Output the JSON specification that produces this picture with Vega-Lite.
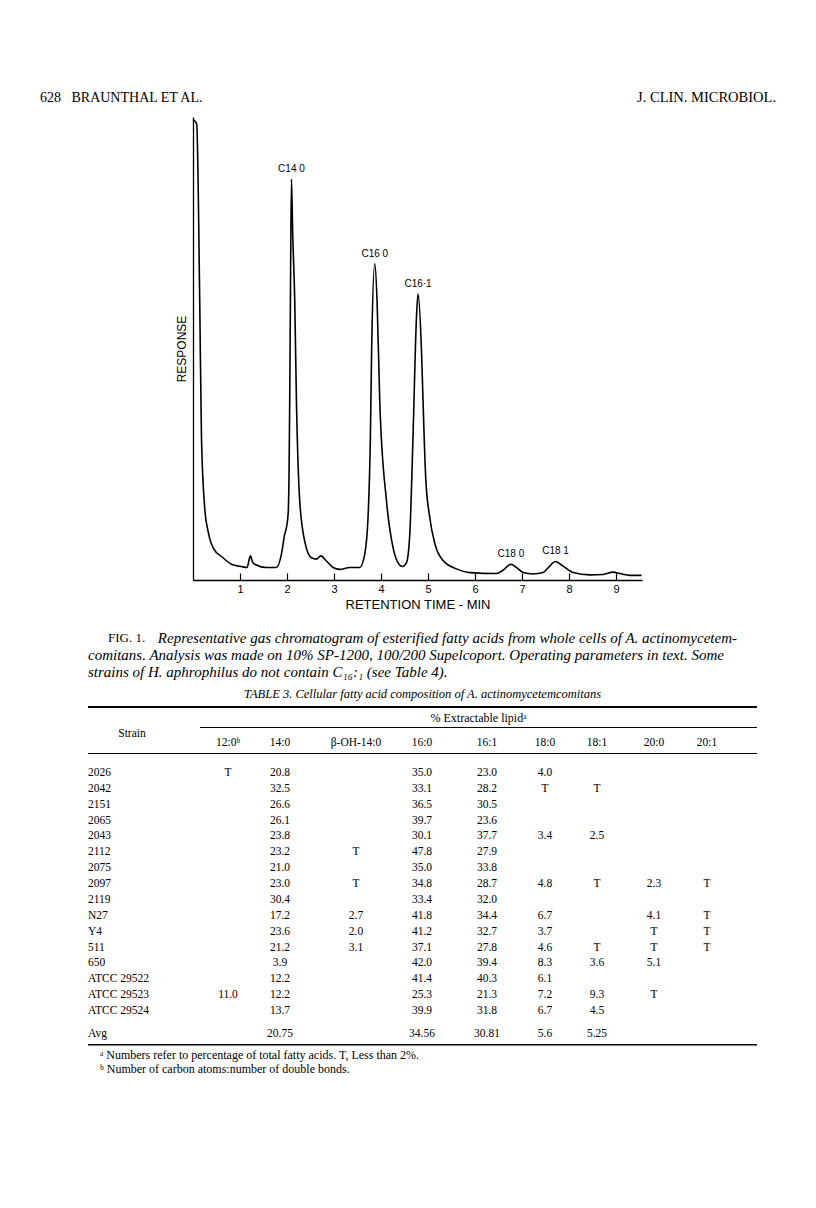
{
"$schema":"https://vega.github.io/schema/vega-lite/v6.json",
"background":"white",
"padding":{"left":0,"top":80,"right":0,"bottom":0},
"spacing":0,
"config":{"view":{"stroke":null},"concat":{"spacing":0},"text":{"font":"Liberation Serif","fontSize":11.5,"color":"black"},"title":{"font":"Liberation Serif","fontWeight":"normal","color":"black"}},
"datasets":{
"runninghead":[{"side":"left","label":"628\u00a0\u00a0\u00a0BRAUNTHAL ET AL."},{"side":"right","label":"J. CLIN. MICROBIOL."}],
"trace":[{"time":0,"response":99.5},{"time":0.079,"response":98.5},{"time":0.143,"response":60.3},{"time":0.179,"response":31.5},{"time":0.249,"response":15.6},{"time":0.319,"response":10.6},{"time":0.426,"response":7.0},{"time":0.638,"response":4.8},{"time":0.817,"response":3.4},{"time":1.03,"response":2.9},{"time":1.149,"response":2.7},{"time":1.221,"response":5.2},{"time":1.27,"response":3.8},{"time":1.313,"response":3.4},{"time":1.562,"response":2.7},{"time":1.774,"response":2.7},{"time":1.881,"response":5.6},{"time":1.951,"response":9.9},{"time":1.987,"response":11.3},{"time":2.025,"response":14.5},{"time":2.045,"response":25},{"time":2.057,"response":38.7},{"time":2.072,"response":60.3},{"time":2.094,"response":86.6},{"time":2.12,"response":75},{"time":2.164,"response":60.3},{"time":2.2,"response":38.7},{"time":2.27,"response":17.1},{"time":2.391,"response":7.7},{"time":2.519,"response":4.8},{"time":2.626,"response":4.5},{"time":2.717,"response":5.2},{"time":2.838,"response":4.1},{"time":2.979,"response":2.7},{"time":3.121,"response":2.3},{"time":3.334,"response":2.7},{"time":3.547,"response":2.7},{"time":3.653,"response":5.6},{"time":3.723,"response":13.5},{"time":3.774,"response":31.5},{"time":3.8,"response":50},{"time":3.866,"response":68.3},{"time":3.915,"response":60.3},{"time":3.972,"response":38.7},{"time":4.115,"response":17.1},{"time":4.255,"response":7.0},{"time":4.362,"response":3.7},{"time":4.455,"response":2.9},{"time":4.54,"response":3.7},{"time":4.611,"response":9.9},{"time":4.681,"response":31.5},{"time":4.753,"response":56.7},{"time":4.787,"response":61.8},{"time":4.86,"response":49.5},{"time":4.91,"response":33},{"time":4.95,"response":22},{"time":5.036,"response":13.5},{"time":5.14,"response":8},{"time":5.319,"response":4.2},{"time":5.604,"response":2.4},{"time":5.887,"response":1.6},{"time":6.455,"response":1.4},{"time":6.59,"response":2.1},{"time":6.762,"response":3.4},{"time":6.881,"response":2.7},{"time":7.021,"response":1.6},{"time":7.234,"response":1.3},{"time":7.447,"response":1.6},{"time":7.568,"response":2.8},{"time":7.711,"response":4.0},{"time":7.872,"response":3.0},{"time":8.085,"response":1.6},{"time":8.44,"response":1.1},{"time":8.723,"response":1.2},{"time":8.936,"response":1.7},{"time":9.079,"response":1.4},{"time":9.291,"response":1.0},{"time":9.54,"response":1.0}],
"peaks":[{"time":2.094,"response":86.6,"label":"C14 0"},{"time":3.866,"response":68.3,"label":"C16 0"},{"time":4.787,"response":61.8,"label":"C16·1"},{"time":6.762,"response":3.4,"label":"C18 0"},{"time":7.711,"response":4.0,"label":"C18 1"}],
"caption":[{"line":"1","part":"label","text":"FIG. 1."},{"line":"1","part":"first","text":"Representative gas chromatogram of esterified fatty acids from whole cells of A. actinomycetem-"},{"line":"2","part":"rest","text":"comitans. Analysis was made on 10% SP-1200, 100/200 Supelcoport. Operating parameters in text. Some"},{"line":"3","part":"rest","text":"strains of H. aphrophilus do not contain C₁₆:₁ (see Table 4)."}],
"tabletext":[{"role":"title","line":"t","text":"TABLE 3. Cellular fatty acid composition of A. actinomycetemcomitans"},{"role":"group","line":"g","text":"% Extractable lipidᵃ"},{"role":"foot","line":"a","text":"ᵃ Numbers refer to percentage of total fatty acids. T, Less than 2%."},{"role":"foot","line":"b","text":"ᵇ Number of carbon atoms:number of double bonds."}],
"columns":[{"acid":"Strain","label":"Strain"},{"acid":"12:0","label":"12:0ᵇ"},{"acid":"14:0","label":"14:0"},{"acid":"β-OH-14:0","label":"β-OH-14:0"},{"acid":"16:0","label":"16:0"},{"acid":"16:1","label":"16:1"},{"acid":"18:0","label":"18:0"},{"acid":"18:1","label":"18:1"},{"acid":"20:0","label":"20:0"},{"acid":"20:1","label":"20:1"}],
"cells":[
{"strain":"2026","acid":"12:0","value":"T"},{"strain":"2026","acid":"14:0","value":"20.8"},{"strain":"2026","acid":"16:0","value":"35.0"},{"strain":"2026","acid":"16:1","value":"23.0"},{"strain":"2026","acid":"18:0","value":"4.0"},
{"strain":"2042","acid":"14:0","value":"32.5"},{"strain":"2042","acid":"16:0","value":"33.1"},{"strain":"2042","acid":"16:1","value":"28.2"},{"strain":"2042","acid":"18:0","value":"T"},{"strain":"2042","acid":"18:1","value":"T"},
{"strain":"2151","acid":"14:0","value":"26.6"},{"strain":"2151","acid":"16:0","value":"36.5"},{"strain":"2151","acid":"16:1","value":"30.5"},
{"strain":"2065","acid":"14:0","value":"26.1"},{"strain":"2065","acid":"16:0","value":"39.7"},{"strain":"2065","acid":"16:1","value":"23.6"},
{"strain":"2043","acid":"14:0","value":"23.8"},{"strain":"2043","acid":"16:0","value":"30.1"},{"strain":"2043","acid":"16:1","value":"37.7"},{"strain":"2043","acid":"18:0","value":"3.4"},{"strain":"2043","acid":"18:1","value":"2.5"},
{"strain":"2112","acid":"14:0","value":"23.2"},{"strain":"2112","acid":"β-OH-14:0","value":"T"},{"strain":"2112","acid":"16:0","value":"47.8"},{"strain":"2112","acid":"16:1","value":"27.9"},
{"strain":"2075","acid":"14:0","value":"21.0"},{"strain":"2075","acid":"16:0","value":"35.0"},{"strain":"2075","acid":"16:1","value":"33.8"},
{"strain":"2097","acid":"14:0","value":"23.0"},{"strain":"2097","acid":"β-OH-14:0","value":"T"},{"strain":"2097","acid":"16:0","value":"34.8"},{"strain":"2097","acid":"16:1","value":"28.7"},{"strain":"2097","acid":"18:0","value":"4.8"},{"strain":"2097","acid":"18:1","value":"T"},{"strain":"2097","acid":"20:0","value":"2.3"},{"strain":"2097","acid":"20:1","value":"T"},
{"strain":"2119","acid":"14:0","value":"30.4"},{"strain":"2119","acid":"16:0","value":"33.4"},{"strain":"2119","acid":"16:1","value":"32.0"},
{"strain":"N27","acid":"14:0","value":"17.2"},{"strain":"N27","acid":"β-OH-14:0","value":"2.7"},{"strain":"N27","acid":"16:0","value":"41.8"},{"strain":"N27","acid":"16:1","value":"34.4"},{"strain":"N27","acid":"18:0","value":"6.7"},{"strain":"N27","acid":"20:0","value":"4.1"},{"strain":"N27","acid":"20:1","value":"T"},
{"strain":"Y4","acid":"14:0","value":"23.6"},{"strain":"Y4","acid":"β-OH-14:0","value":"2.0"},{"strain":"Y4","acid":"16:0","value":"41.2"},{"strain":"Y4","acid":"16:1","value":"32.7"},{"strain":"Y4","acid":"18:0","value":"3.7"},{"strain":"Y4","acid":"20:0","value":"T"},{"strain":"Y4","acid":"20:1","value":"T"},
{"strain":"511","acid":"14:0","value":"21.2"},{"strain":"511","acid":"β-OH-14:0","value":"3.1"},{"strain":"511","acid":"16:0","value":"37.1"},{"strain":"511","acid":"16:1","value":"27.8"},{"strain":"511","acid":"18:0","value":"4.6"},{"strain":"511","acid":"18:1","value":"T"},{"strain":"511","acid":"20:0","value":"T"},{"strain":"511","acid":"20:1","value":"T"},
{"strain":"650","acid":"14:0","value":"3.9"},{"strain":"650","acid":"16:0","value":"42.0"},{"strain":"650","acid":"16:1","value":"39.4"},{"strain":"650","acid":"18:0","value":"8.3"},{"strain":"650","acid":"18:1","value":"3.6"},{"strain":"650","acid":"20:0","value":"5.1"},
{"strain":"ATCC 29522","acid":"14:0","value":"12.2"},{"strain":"ATCC 29522","acid":"16:0","value":"41.4"},{"strain":"ATCC 29522","acid":"16:1","value":"40.3"},{"strain":"ATCC 29522","acid":"18:0","value":"6.1"},
{"strain":"ATCC 29523","acid":"12:0","value":"11.0"},{"strain":"ATCC 29523","acid":"14:0","value":"12.2"},{"strain":"ATCC 29523","acid":"16:0","value":"25.3"},{"strain":"ATCC 29523","acid":"16:1","value":"21.3"},{"strain":"ATCC 29523","acid":"18:0","value":"7.2"},{"strain":"ATCC 29523","acid":"18:1","value":"9.3"},{"strain":"ATCC 29523","acid":"20:0","value":"T"},
{"strain":"ATCC 29524","acid":"14:0","value":"13.7"},{"strain":"ATCC 29524","acid":"16:0","value":"39.9"},{"strain":"ATCC 29524","acid":"16:1","value":"31.8"},{"strain":"ATCC 29524","acid":"18:0","value":"6.7"},{"strain":"ATCC 29524","acid":"18:1","value":"4.5"},
{"strain":"Avg","acid":"14:0","value":"20.75"},{"strain":"Avg","acid":"16:0","value":"34.56"},{"strain":"Avg","acid":"16:1","value":"30.81"},{"strain":"Avg","acid":"18:0","value":"5.6"},{"strain":"Avg","acid":"18:1","value":"5.25"}
]
},
"vconcat":[
{"width":816,"height":36,"data":{"name":"runninghead"},
 "encoding":{"x":{"field":"side","type":"nominal","scale":{"domain":["left","right"],"padding":0.0543},"axis":null},"text":{"field":"label"}},
 "layer":[
  {"transform":[{"filter":"datum.side == 'left'"}],"mark":{"type":"text","align":"left","fontSize":14}},
  {"transform":[{"filter":"datum.side == 'right'"}],"mark":{"type":"text","align":"right","fontSize":14.5}}
 ]},
{"bounds":"flush","spacing":0,"hconcat":[
 {"width":193,"height":511.5,"data":{"values":[]},"mark":"text"},
 {"width":449,"height":463,
  "encoding":{
   "x":{"field":"time","type":"quantitative","scale":{"domain":[0,9.55],"nice":false,"zero":false},
        "axis":{"values":[1,2,3,4,5,6,7,8,9],"format":"d","grid":false,"domainColor":"black","domainWidth":1.3,"tickColor":"black","tickSize":-7,"tickWidth":1.2,"labelFont":"Liberation Sans","labelFontSize":11,"labelColor":"black","labelPadding":10,"labelFlush":false,"title":"RETENTION TIME - MIN","titleFont":"Liberation Sans","titleFontSize":13,"titleFontWeight":"normal","titleColor":"black","titlePadding":4}},
   "y":{"field":"response","type":"quantitative","scale":{"domain":[0,100],"nice":false},
        "axis":{"ticks":false,"labels":false,"grid":false,"domainColor":"black","domainWidth":1.3,"title":"RESPONSE","titleFont":"Liberation Sans","titleFontSize":12,"titleFontWeight":"normal","titleColor":"black","titlePadding":5}}
  },
  "layer":[
   {"data":{"name":"trace"},"mark":{"type":"line","interpolate":"monotone","color":"black","strokeWidth":1.6}},
   {"data":{"name":"peaks"},"mark":{"type":"text","dy":-10,"font":"Liberation Sans","fontSize":10},"encoding":{"text":{"field":"label"}}}
  ]}
]},
{"bounds":"flush","spacing":0,"hconcat":[
 {"width":88,"height":52,"data":{"values":[]},"mark":"text"},
 {"width":649,"height":52,"data":{"name":"caption"},
  "encoding":{"y":{"field":"line","type":"nominal","scale":{"domain":["1","2","3"]},"axis":null},"text":{"field":"text"}},
  "layer":[
   {"transform":[{"filter":"datum.part == 'label'"}],"mark":{"type":"text","align":"left","fontSize":13},"encoding":{"x":{"datum":"label","type":"nominal","scale":{"align":0.0308},"axis":null}}},
   {"transform":[{"filter":"datum.part == 'first'"}],"mark":{"type":"text","align":"right","fontSize":15,"fontStyle":"italic"},"encoding":{"x":{"datum":"first","type":"nominal","scale":{"align":1},"axis":null}}},
   {"transform":[{"filter":"datum.part == 'rest'"}],"mark":{"type":"text","align":"left","fontSize":15,"fontStyle":"italic"},"encoding":{"x":{"datum":"rest","type":"nominal","scale":{"align":0},"axis":null}}}
  ],
  "resolve":{"scale":{"x":"independent"}}}
]},
{"bounds":"flush","spacing":0,"hconcat":[
 {"width":88,"height":25,"data":{"values":[]},"mark":"text"},
 {"width":669,"height":25,"data":{"name":"tabletext"},"transform":[{"filter":"datum.role == 'title'"}],"mark":{"type":"text","fontSize":12.5,"fontStyle":"italic"},"encoding":{"text":{"field":"text"}}}
]},
{"bounds":"flush","spacing":0,"hconcat":[
 {"width":88,"height":2,"data":{"values":[]},"mark":"text"},
 {"width":669,"height":2,"data":{"values":[]},"mark":"text","view":{"fill":"black"}}
]},
{"bounds":"flush","spacing":0,"hconcat":[
 {"width":200,"height":19,"data":{"values":[]},"mark":"text"},
 {"width":557,"height":19,"data":{"name":"tabletext"},"transform":[{"filter":"datum.role == 'group'"}],"mark":{"type":"text","fontSize":12},"encoding":{"text":{"field":"text"}}}
]},
{"bounds":"flush","spacing":0,"hconcat":[
 {"width":200,"height":1,"data":{"values":[]},"mark":"text"},
 {"width":557,"height":1,"data":{"values":[]},"mark":"text","view":{"fill":"black"}}
]},
{"bounds":"flush","spacing":0,"hconcat":[
 {"width":88,"height":25,"data":{"values":[]},"mark":"text"},
 {"width":88,"height":25,"data":{"name":"columns"},"transform":[{"filter":"datum.acid == 'Strain'"}],"mark":"text","encoding":{"y":{"datum":"h","type":"nominal","scale":{"align":0.24},"axis":null},"text":{"field":"label"}}},
 {"width":39,"height":25,"data":{"values":[]},"mark":"text"},
 {"width":26,"height":25,"data":{"name":"columns"},"transform":[{"filter":"datum.acid == '12:0'"}],"mark":"text","encoding":{"y":{"datum":"h","type":"nominal","scale":{"align":0.6},"axis":null},"text":{"field":"label"}}},
 {"width":78,"height":25,"data":{"name":"columns"},"transform":[{"filter":"datum.acid == '14:0'"}],"mark":"text","encoding":{"y":{"datum":"h","type":"nominal","scale":{"align":0.6},"axis":null},"text":{"field":"label"}}},
 {"width":74,"height":25,"data":{"name":"columns"},"transform":[{"filter":"datum.acid == 'β-OH-14:0'"}],"mark":"text","encoding":{"y":{"datum":"h","type":"nominal","scale":{"align":0.6},"axis":null},"text":{"field":"label"}}},
 {"width":58,"height":25,"data":{"name":"columns"},"transform":[{"filter":"datum.acid == '16:0'"}],"mark":"text","encoding":{"y":{"datum":"h","type":"nominal","scale":{"align":0.6},"axis":null},"text":{"field":"label"}}},
 {"width":72,"height":25,"data":{"name":"columns"},"transform":[{"filter":"datum.acid == '16:1'"}],"mark":"text","encoding":{"y":{"datum":"h","type":"nominal","scale":{"align":0.6},"axis":null},"text":{"field":"label"}}},
 {"width":44,"height":25,"data":{"name":"columns"},"transform":[{"filter":"datum.acid == '18:0'"}],"mark":"text","encoding":{"y":{"datum":"h","type":"nominal","scale":{"align":0.6},"axis":null},"text":{"field":"label"}}},
 {"width":60,"height":25,"data":{"name":"columns"},"transform":[{"filter":"datum.acid == '18:1'"}],"mark":"text","encoding":{"y":{"datum":"h","type":"nominal","scale":{"align":0.6},"axis":null},"text":{"field":"label"}}},
 {"width":54,"height":25,"data":{"name":"columns"},"transform":[{"filter":"datum.acid == '20:0'"}],"mark":"text","encoding":{"y":{"datum":"h","type":"nominal","scale":{"align":0.6},"axis":null},"text":{"field":"label"}}},
 {"width":52,"height":25,"data":{"name":"columns"},"transform":[{"filter":"datum.acid == '20:1'"}],"mark":"text","encoding":{"y":{"datum":"h","type":"nominal","scale":{"align":0.6},"axis":null},"text":{"field":"label"}}}
]},
{"bounds":"flush","spacing":0,"hconcat":[
 {"width":88,"height":1,"data":{"values":[]},"mark":"text"},
 {"width":669,"height":1,"data":{"values":[]},"mark":"text","view":{"fill":"black"}}
]},
{"bounds":"flush","spacing":0,"hconcat":[
 {"width":88,"height":269,"data":{"values":[]},"mark":"text"},
 {"width":88,"height":269,"data":{"name":"cells"},"transform":[{"filter":"datum.acid == '14:0' && datum.strain != 'Avg'"}],"mark":{"type":"text","align":"left"},"encoding":{"x":{"datum":"strain","type":"nominal","scale":{"align":0},"axis":null},"y":{"field":"strain","type":"nominal","scale":{"domain":["2026","2042","2151","2065","2043","2112","2075","2097","2119","N27","Y4","511","650","ATCC 29522","ATCC 29523","ATCC 29524"],"padding":0.975,"align":0.613},"axis":null},"text":{"field":"strain"}}},
 {"width":39,"height":269,"data":{"values":[]},"mark":"text"},
 {"width":26,"height":269,"data":{"name":"cells"},"transform":[{"filter":"datum.acid == '12:0' && datum.strain != 'Avg'"}],"mark":"text","encoding":{"y":{"field":"strain","type":"nominal","scale":{"domain":["2026","2042","2151","2065","2043","2112","2075","2097","2119","N27","Y4","511","650","ATCC 29522","ATCC 29523","ATCC 29524"],"padding":0.975,"align":0.613},"axis":null},"text":{"field":"value"}}},
 {"width":78,"height":269,"data":{"name":"cells"},"transform":[{"filter":"datum.acid == '14:0' && datum.strain != 'Avg'"}],"mark":"text","encoding":{"y":{"field":"strain","type":"nominal","scale":{"domain":["2026","2042","2151","2065","2043","2112","2075","2097","2119","N27","Y4","511","650","ATCC 29522","ATCC 29523","ATCC 29524"],"padding":0.975,"align":0.613},"axis":null},"text":{"field":"value"}}},
 {"width":74,"height":269,"data":{"name":"cells"},"transform":[{"filter":"datum.acid == 'β-OH-14:0' && datum.strain != 'Avg'"}],"mark":"text","encoding":{"y":{"field":"strain","type":"nominal","scale":{"domain":["2026","2042","2151","2065","2043","2112","2075","2097","2119","N27","Y4","511","650","ATCC 29522","ATCC 29523","ATCC 29524"],"padding":0.975,"align":0.613},"axis":null},"text":{"field":"value"}}},
 {"width":58,"height":269,"data":{"name":"cells"},"transform":[{"filter":"datum.acid == '16:0' && datum.strain != 'Avg'"}],"mark":"text","encoding":{"y":{"field":"strain","type":"nominal","scale":{"domain":["2026","2042","2151","2065","2043","2112","2075","2097","2119","N27","Y4","511","650","ATCC 29522","ATCC 29523","ATCC 29524"],"padding":0.975,"align":0.613},"axis":null},"text":{"field":"value"}}},
 {"width":72,"height":269,"data":{"name":"cells"},"transform":[{"filter":"datum.acid == '16:1' && datum.strain != 'Avg'"}],"mark":"text","encoding":{"y":{"field":"strain","type":"nominal","scale":{"domain":["2026","2042","2151","2065","2043","2112","2075","2097","2119","N27","Y4","511","650","ATCC 29522","ATCC 29523","ATCC 29524"],"padding":0.975,"align":0.613},"axis":null},"text":{"field":"value"}}},
 {"width":44,"height":269,"data":{"name":"cells"},"transform":[{"filter":"datum.acid == '18:0' && datum.strain != 'Avg'"}],"mark":"text","encoding":{"y":{"field":"strain","type":"nominal","scale":{"domain":["2026","2042","2151","2065","2043","2112","2075","2097","2119","N27","Y4","511","650","ATCC 29522","ATCC 29523","ATCC 29524"],"padding":0.975,"align":0.613},"axis":null},"text":{"field":"value"}}},
 {"width":60,"height":269,"data":{"name":"cells"},"transform":[{"filter":"datum.acid == '18:1' && datum.strain != 'Avg'"}],"mark":"text","encoding":{"y":{"field":"strain","type":"nominal","scale":{"domain":["2026","2042","2151","2065","2043","2112","2075","2097","2119","N27","Y4","511","650","ATCC 29522","ATCC 29523","ATCC 29524"],"padding":0.975,"align":0.613},"axis":null},"text":{"field":"value"}}},
 {"width":54,"height":269,"data":{"name":"cells"},"transform":[{"filter":"datum.acid == '20:0' && datum.strain != 'Avg'"}],"mark":"text","encoding":{"y":{"field":"strain","type":"nominal","scale":{"domain":["2026","2042","2151","2065","2043","2112","2075","2097","2119","N27","Y4","511","650","ATCC 29522","ATCC 29523","ATCC 29524"],"padding":0.975,"align":0.613},"axis":null},"text":{"field":"value"}}},
 {"width":52,"height":269,"data":{"name":"cells"},"transform":[{"filter":"datum.acid == '20:1' && datum.strain != 'Avg'"}],"mark":"text","encoding":{"y":{"field":"strain","type":"nominal","scale":{"domain":["2026","2042","2151","2065","2043","2112","2075","2097","2119","N27","Y4","511","650","ATCC 29522","ATCC 29523","ATCC 29524"],"padding":0.975,"align":0.613},"axis":null},"text":{"field":"value"}}}
]},
{"bounds":"flush","spacing":0,"hconcat":[
 {"width":88,"height":21,"data":{"values":[]},"mark":"text"},
 {"width":88,"height":21,"data":{"name":"cells"},"transform":[{"filter":"datum.acid == '14:0' && datum.strain == 'Avg'"}],"mark":{"type":"text","align":"left"},"encoding":{"x":{"datum":"strain","type":"nominal","scale":{"align":0},"axis":null},"text":{"field":"strain"}}},
 {"width":39,"height":21,"data":{"values":[]},"mark":"text"},
 {"width":26,"height":21,"data":{"values":[]},"mark":"text"},
 {"width":78,"height":21,"data":{"name":"cells"},"transform":[{"filter":"datum.acid == '14:0' && datum.strain == 'Avg'"}],"mark":"text","encoding":{"text":{"field":"value"}}},
 {"width":74,"height":21,"data":{"values":[]},"mark":"text"},
 {"width":58,"height":21,"data":{"name":"cells"},"transform":[{"filter":"datum.acid == '16:0' && datum.strain == 'Avg'"}],"mark":"text","encoding":{"text":{"field":"value"}}},
 {"width":72,"height":21,"data":{"name":"cells"},"transform":[{"filter":"datum.acid == '16:1' && datum.strain == 'Avg'"}],"mark":"text","encoding":{"text":{"field":"value"}}},
 {"width":44,"height":21,"data":{"name":"cells"},"transform":[{"filter":"datum.acid == '18:0' && datum.strain == 'Avg'"}],"mark":"text","encoding":{"text":{"field":"value"}}},
 {"width":60,"height":21,"data":{"name":"cells"},"transform":[{"filter":"datum.acid == '18:1' && datum.strain == 'Avg'"}],"mark":"text","encoding":{"text":{"field":"value"}}}
]},
{"bounds":"flush","spacing":0,"hconcat":[
 {"width":88,"height":1.5,"data":{"values":[]},"mark":"text"},
 {"width":669,"height":1.5,"data":{"values":[]},"mark":"text","view":{"fill":"black"}}
]},
{"bounds":"flush","spacing":0,"hconcat":[
 {"width":100,"height":32,"data":{"values":[]},"mark":"text"},
 {"width":620,"height":32,"data":{"name":"tabletext"},"transform":[{"filter":"datum.role == 'foot'"}],"mark":{"type":"text","align":"left","fontSize":12},"encoding":{"x":{"datum":"foot","type":"nominal","scale":{"align":0},"axis":null},"y":{"field":"line","type":"nominal","scale":{"domain":["a","b"],"padding":0.6},"axis":null},"text":{"field":"text"}}}
]}
]
}
